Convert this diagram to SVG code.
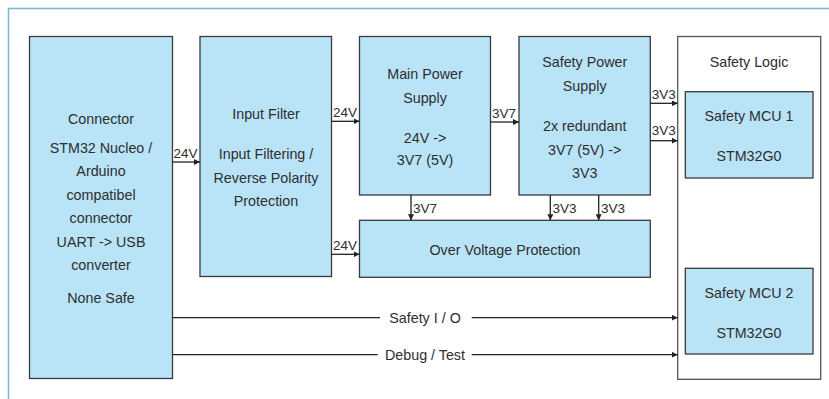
<svg xmlns="http://www.w3.org/2000/svg" width="829" height="399" viewBox="0 0 829 399">
<defs>
<style>
.box{fill:#b9e4f8;stroke:#3a3a3a;stroke-width:1.3}
.white{fill:#ffffff;stroke:#555;stroke-width:1.3}
text{font-family:"Liberation Sans",Arial,sans-serif;font-size:14.3px;fill:#2e2e2e;text-anchor:middle;dominant-baseline:central}
.lbl{font-size:13.5px;text-anchor:start}
.conn line{stroke:#222;stroke-width:1.3;fill:none}
</style>
<marker id="ah" viewBox="0 0 8 8" refX="8" refY="4" markerWidth="6" markerHeight="6" orient="auto" markerUnits="userSpaceOnUse">
<path d="M0,0 L8,4 L0,8 Z" fill="#222"/>
</marker>
</defs>
<rect x="0" y="0" width="829" height="399" fill="#ffffff"/>
<path d="M8.5,399 V8.5 H829" fill="none" stroke="#79b6de" stroke-width="1.5"/>

<g id="connector">
<rect class="box" x="29.5" y="36.5" width="143" height="342"/>
<text x="101" y="119">Connector</text>
<text x="101" y="147.5">STM32 Nucleo /</text>
<text x="101" y="171">Arduino</text>
<text x="101" y="194.5">compatibel</text>
<text x="101" y="218">connector</text>
<text x="101" y="241.5">UART -&gt; USB</text>
<text x="101" y="265">converter</text>
<text x="101" y="298">None Safe</text>
</g>

<g id="input-filter">
<rect class="box" x="200" y="36.5" width="131.5" height="240"/>
<text x="266" y="114">Input Filter</text>
<text x="266" y="154">Input Filtering /</text>
<text x="266" y="178">Reverse Polarity</text>
<text x="266" y="201">Protection</text>
</g>

<g id="main-power">
<rect class="box" x="359.5" y="36.5" width="131" height="158.5"/>
<text x="425" y="74">Main Power</text>
<text x="425" y="98">Supply</text>
<text x="425" y="138">24V -&gt;</text>
<text x="425" y="160">3V7 (5V)</text>
</g>

<g id="safety-power">
<rect class="box" x="519" y="36.5" width="131.3" height="158.5"/>
<text x="584.7" y="62">Safety Power</text>
<text x="584.7" y="86">Supply</text>
<text x="584.7" y="126">2x redundant</text>
<text x="584.7" y="150">3V7 (5V) -&gt;</text>
<text x="584.7" y="173">3V3</text>
</g>

<g id="ovp">
<rect class="box" x="359.5" y="220.3" width="290.8" height="57"/>
<text x="505" y="250">Over Voltage Protection</text>
</g>

<g id="safety-logic">
<rect class="white" x="677.7" y="36.5" width="143" height="342.8"/>
<text x="749" y="62">Safety Logic</text>
</g>

<g id="mcu1">
<rect class="box" x="685.3" y="91.7" width="127.7" height="86.3"/>
<text x="749" y="116">Safety MCU 1</text>
<text x="749" y="155.7">STM32G0</text>
</g>

<g id="mcu2">
<rect class="box" x="685.3" y="268.3" width="127.7" height="85.7"/>
<text x="749" y="293">Safety MCU 2</text>
<text x="749" y="333">STM32G0</text>
</g>

<g class="conn" id="connectors">
<line x1="172.5" y1="162" x2="200" y2="162" marker-end="url(#ah)"/>
<line x1="331.5" y1="121.3" x2="359.5" y2="121.3" marker-end="url(#ah)"/>
<line x1="331.5" y1="254.3" x2="359.5" y2="254.3" marker-end="url(#ah)"/>
<line x1="490.5" y1="122" x2="519" y2="122" marker-end="url(#ah)"/>
<line x1="650.3" y1="103.3" x2="677.7" y2="103.3" marker-end="url(#ah)"/>
<line x1="650.3" y1="140.7" x2="677.7" y2="140.7" marker-end="url(#ah)"/>
<line x1="411" y1="195" x2="411" y2="220.3" marker-end="url(#ah)"/>
<line x1="550.3" y1="195" x2="550.3" y2="220.3" marker-end="url(#ah)"/>
<line x1="598.7" y1="195" x2="598.7" y2="220.3" marker-end="url(#ah)"/>
<line x1="172.5" y1="317.7" x2="380" y2="317.7"/>
<line x1="471.7" y1="317.7" x2="677.7" y2="317.7" marker-end="url(#ah)"/>
<line x1="172.5" y1="354.7" x2="377.7" y2="354.7"/>
<line x1="471.7" y1="354.7" x2="677.7" y2="354.7" marker-end="url(#ah)"/>
<text class="lbl" x="173.5" y="153">24V</text>
<text class="lbl" x="333" y="112">24V</text>
<text class="lbl" x="333" y="245">24V</text>
<text class="lbl" x="492" y="113">3V7</text>
<text class="lbl" x="651.8" y="94">3V3</text>
<text class="lbl" x="651.8" y="130">3V3</text>
<text class="lbl" x="413" y="208">3V7</text>
<text class="lbl" x="552.5" y="208">3V3</text>
<text class="lbl" x="601" y="208">3V3</text>
<text x="425" y="317.7">Safety I / O</text>
<text x="425" y="354.7">Debug / Test</text>
</g>
</svg>
